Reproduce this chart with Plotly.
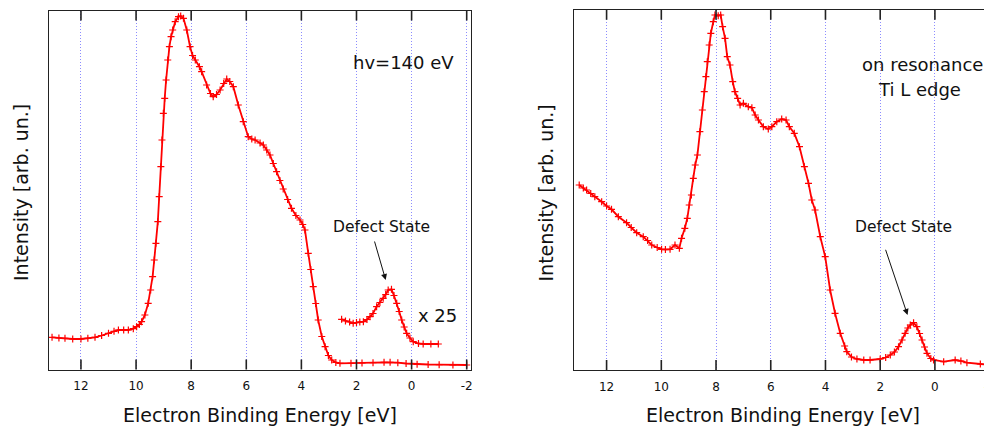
import plotly.graph_objects as go

# ---------------- data ----------------
# Left panel: hv = 140 eV, main spectrum
left_E = [13.05, 12.8, 12.58, 12.3, 12.0, 11.75, 11.49, 11.25, 11.0, 10.8, 10.64, 10.45,
          10.28, 10.1, 9.98, 9.88, 9.80, 9.68, 9.56, 9.47, 9.40, 9.34, 9.28, 9.21, 9.16,
          9.10, 9.06, 9.01, 8.96, 8.91, 8.85, 8.79, 8.73, 8.67, 8.58, 8.46, 8.38, 8.28,
          8.16, 8.04, 7.95, 7.85, 7.70, 7.62, 7.44, 7.30, 7.20, 7.08, 6.95, 6.82, 6.71,
          6.60, 6.47, 6.29, 6.11, 5.93, 5.80, 5.68, 5.50, 5.38, 5.26, 5.14, 5.02, 4.90,
          4.78, 4.66, 4.50, 4.36, 4.20, 4.05, 3.95, 3.87, 3.75, 3.66, 3.57, 3.48, 3.39,
          3.26, 3.14, 3.02, 2.90, 2.75, 2.60, 2.2, 1.8, 1.4, 1.0, 0.78, 0.5, 0.2, -0.2,
          -0.6, -1.0, -1.5, -2.0]
left_I = [32.2, 31.5, 31.2, 30.5, 30.5, 31.2, 32.2, 34.0, 36.2, 38.2, 39.5, 39.5,
          39.5, 40.8, 42.8, 45.0, 47.8, 54.5, 66.2, 79.5, 92.8, 109.5, 126.2, 147.8, 172.8,
          202.8, 229.5, 256.2, 271.2, 289.5, 309.5, 322.8, 332.8, 339.5, 347.8, 352.8, 353.5, 351.2,
          339.5, 322.8, 314.0, 309.5, 302.8, 297.8, 284.5, 276.0, 272.8, 275.0, 279.5, 286.0, 290.5,
          288.0, 282.8, 264.5, 247.8, 232.8, 230.5, 229.5, 226.5, 224.5, 219.5, 214.5, 206.0, 197.8,
          189.0, 180.5, 170.0, 161.2, 154.0, 149.5, 145.0, 139.5, 116.2, 100.0, 82.8, 66.0, 49.5,
          33.0, 22.8, 14.0, 9.5, 7.0, 6.2, 6.2, 6.5, 6.8, 7.2, 7.2, 6.8, 6.0, 5.2,
          5.0, 4.8, 4.6, 4.5]

# Left panel: defect-state region magnified x 25
defect_E = [2.54, 2.40, 2.25, 2.12, 2.00, 1.88, 1.75, 1.62, 1.51, 1.40, 1.27, 1.15, 1.03,
            0.94, 0.85, 0.73, 0.64, 0.54, 0.45, 0.36, 0.27, 0.18, 0.06, -0.06, -0.25,
            -0.42, -0.70, -0.97]
defect_I = [50.2, 48.5, 47.5, 46.2, 47.0, 47.5, 47.8, 50.0, 52.8, 56.0, 62.8, 67.0, 71.2,
            75.0, 79.5, 80.2, 74.0, 66.2, 58.0, 49.5, 42.5, 36.2, 31.5, 27.8, 26.0,
            25.5, 25.5, 25.5]

# Right panel: on resonance, Ti L edge
right_E = [13.0, 12.85, 12.73, 12.58, 12.43, 12.18, 12.0, 11.82, 11.57, 11.27, 11.1, 10.90,
           10.66, 10.50, 10.35, 10.15, 9.99, 9.85, 9.68, 9.50, 9.34, 9.26, 9.14, 9.05, 8.98,
           8.90, 8.83, 8.76, 8.68, 8.59, 8.50, 8.43, 8.37, 8.32, 8.25, 8.19, 8.10, 8.04,
           7.92, 7.83, 7.76, 7.67, 7.59, 7.49, 7.39, 7.31, 7.21, 7.12, 7.00, 6.82, 6.69,
           6.57, 6.45, 6.27, 6.09, 5.96, 5.78, 5.60, 5.44, 5.32, 5.14, 4.95, 4.77, 4.62,
           4.50, 4.38, 4.19, 4.01, 3.83, 3.65, 3.46, 3.30, 3.22, 3.05, 2.85, 2.60, 2.37,
           2.00, 1.80, 1.63, 1.48, 1.33, 1.20, 1.09, 0.99, 0.90, 0.78, 0.66, 0.56, 0.47,
           0.38, 0.29, 0.15, 0.05, -0.32, -0.74, -0.95, -1.17, -1.66, -2.02]
right_I = [185.0, 182.0, 180.0, 176.5, 173.3, 168.3, 164.0, 160.7, 153.3, 147.3, 142.5, 137.3,
           133.3, 129.5, 125.0, 122.5, 120.7, 120.5, 120.7, 125.0, 121.7, 131.7, 141.7, 151.7, 165.0,
           175.0, 191.7, 205.0, 215.0, 238.3, 260.0, 278.3, 293.3, 308.3, 325.0, 336.7, 348.3, 355.0,
           354.3, 355.0, 343.3, 331.7, 313.3, 305.0, 288.3, 278.3, 271.7, 265.0, 266.7, 263.3, 262.3,
           255.0, 250.0, 243.3, 241.0, 243.3, 248.3, 251.0, 250.0, 243.3, 236.7, 223.3, 203.3, 186.7,
           170.0, 160.0, 133.3, 113.3, 80.0, 56.7, 36.7, 24.0, 18.3, 13.0, 11.0, 10.0, 10.0,
           11.0, 12.5, 15.0, 18.0, 23.3, 30.0, 36.7, 42.0, 45.0, 47.3, 43.3, 36.5, 30.0,
           23.0, 16.7, 11.5, 10.0, 8.3, 10.0, 9.0, 7.3, 6.0, 5.0]

tick_vals = [12, 10, 8, 6, 4, 2, 0, -2]
tick_text = ["12", "10", "8", "6", "4", "2", "0", "-2"]

x_title = "Electron Binding Energy [eV]"
y_title = "Intensity [arb. un.]"

# ---------------- figure ----------------
FONT = "DejaVu Sans"
RED = "#ff0000"
OFF = 8                      # page body margin: the figure is drawn 8 px in from the corner
W, H = 992 - OFF, 428 - OFF

fig = go.Figure()

def trace(x, y, xa, ya):
    return go.Scatter(
        x=x, y=y, xaxis=xa, yaxis=ya, mode="lines+markers",
        line=dict(color=RED, width=1.8),
        marker=dict(symbol="cross-thin", size=5, line=dict(color=RED, width=1.2), color=RED),
        showlegend=False, hoverinfo="x+y")

fig.add_trace(trace(left_E, left_I, "x", "y"))
fig.add_trace(trace(defect_E, defect_I, "x", "y"))
fig.add_trace(trace(right_E, right_I, "x2", "y2"))

# x axes: frame line, dotted grid, tick labels (real tick marks drawn as pixel-sized shapes)
xcommon = dict(
    tickmode="array", tickvals=tick_vals, ticktext=tick_text,
    ticks="outside", ticklen=5, tickcolor="rgba(0,0,0,0)",
    mirror=True, showline=True, linecolor="#222", linewidth=1.3,
    showgrid=True, gridcolor="#8c8cff", gridwidth=1, griddash="1px,2px",
    zeroline=False, automargin=False, ticklabeloverflow="allow",
    tickfont=dict(family=FONT, size=12, color="#111"),
)
ycommon = dict(
    showticklabels=False, ticks="", showgrid=False, zeroline=False,
    showline=True, mirror=True, linecolor="#222", linewidth=1.3, automargin=False,
)

# pixel geometry of the two frames (reference-page pixels)
L_x0, L_x1, L_y0, L_y1 = 49, 471, 10.5, 369.5
R_x0, R_x1, R_y0, R_y1 = 574.3, 991, 9.7, 370
L_range = [13.16, -2.156]
R_range = [13.18, -2.05]

def px(x):  # reference page x -> paper fraction
    return (x - OFF) / W

def py(y):  # reference page y -> paper fraction
    return 1 - (y - OFF) / H

fig.update_layout(
    width=W, height=H,
    margin=dict(l=0, r=0, t=0, b=0),
    paper_bgcolor="white", plot_bgcolor="white",
    font=dict(family=FONT, color="#111"),
    xaxis=dict(xcommon, domain=[px(L_x0), px(L_x1)], range=L_range, anchor="y"),
    yaxis=dict(ycommon, domain=[py(L_y1), py(L_y0)], range=[0, 359], anchor="x"),
    xaxis2=dict(xcommon, domain=[px(R_x0), px(R_x1)], range=R_range, anchor="y2"),
    yaxis2=dict(ycommon, domain=[py(R_y1), py(R_y0)], range=[0, 360.3], anchor="x2"),
)

# inward tick marks on bottom and top edges of both frames
TICK_LEN = 10
shapes = []
for xr, yr in [("x", "y domain"), ("x2", "y2 domain")]:
    for v in tick_vals:
        for anchor, sign in [(0, 1), (1, -1)]:
            shapes.append(dict(type="line", xref=xr, yref=yr, x0=v, x1=v,
                               ysizemode="pixel", yanchor=anchor, y0=0, y1=sign * TICK_LEN,
                               line=dict(color="#222", width=1.6), layer="above"))
fig.update_layout(shapes=shapes)

ann = []
# axis titles
for cx in [(L_x0 + L_x1) / 2, (R_x0 + R_x1) / 2]:
    ann.append(dict(text=x_title, xref="paper", yref="paper", x=px(cx), y=py(415),
                    xanchor="center", yanchor="middle", showarrow=False,
                    font=dict(family=FONT, size=19, color="#111")))
for cx in [21, 545.5]:
    ann.append(dict(text=y_title, xref="paper", yref="paper", x=px(cx), y=py(193),
                    xanchor="center", yanchor="middle", showarrow=False, textangle=-90,
                    font=dict(family=FONT, size=19, color="#111")))

# text labels
ann.append(dict(text="hv=140 eV", xref="x", yref="y", x=0.31, y=306.5, showarrow=False,
                xanchor="center", yanchor="middle", font=dict(family=FONT, size=18, color="#111")))
ann.append(dict(text="x 25", xref="x", yref="y", x=-0.95, y=54, showarrow=False,
                xanchor="center", yanchor="middle", font=dict(family=FONT, size=18, color="#111")))
ann.append(dict(text="Defect State", xref="x", yref="y", x=1.09, y=143, showarrow=False,
                xanchor="center", yanchor="middle", font=dict(family=FONT, size=15.5, color="#111")))
ann.append(dict(text="on resonance", xref="x2", yref="y2", x=0.45, y=306, showarrow=False,
                xanchor="center", yanchor="middle", font=dict(family=FONT, size=18, color="#111")))
ann.append(dict(text="Ti L edge", xref="x2", yref="y2", x=0.56, y=281, showarrow=False,
                xanchor="center", yanchor="middle", font=dict(family=FONT, size=18, color="#111")))
ann.append(dict(text="Defect State", xref="x2", yref="y2", x=1.13, y=143.3, showarrow=False,
                xanchor="center", yanchor="middle", font=dict(family=FONT, size=15.5, color="#111")))

# arrows
ann.append(dict(text="", xref="x", yref="y", x=0.94, y=89.5, axref="x", ayref="y",
                ax=1.36, ay=129.5, showarrow=True, arrowhead=2, arrowsize=1.2,
                arrowwidth=1, arrowcolor="#111"))
ann.append(dict(text="", xref="x2", yref="y2", x=1.0, y=55, axref="x2", ayref="y2",
                ax=1.82, ay=121.7, showarrow=True, arrowhead=2, arrowsize=1.2,
                arrowwidth=1, arrowcolor="#111"))

fig.update_layout(annotations=ann)

fig.write_html("out.html")
